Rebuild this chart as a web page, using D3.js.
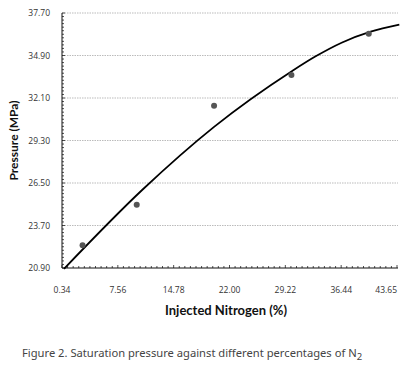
<!DOCTYPE html>
<html>
<head>
<meta charset="utf-8">
<script src="https://cdn.jsdelivr.net/npm/d3@7"></script>
<style>
  body { margin: 0; background: #fff; }
  svg { display: block; }
</style>
</head>
<body>
<div id="chart"></div>
<script>
const width = 413,
    height = 370;

// measured points
const nitrogen = [3, 10, 20, 30, 40];
const pressure = [22.40, 25.07, 31.59, 33.61, 36.34];

// trend line
const fitX = [0.6, 10.7, 20, 30, 33.08, 36.56, 40.25, 43.95];
const fitY = [20.85, 26.04, 30.2, 33.85, 34.83, 35.76, 36.47, 36.93];

const xTicks = [0.34, 7.56, 14.78, 22.00, 29.22, 36.44, 43.65];
const yTicks = [20.90, 23.70, 26.50, 29.30, 32.10, 34.90, 37.70];

const plotLeft = 62, plotRight = 397, plotTop = 13, plotBottom = 268;

const svg = d3.select("#chart")
    .append("svg")
    .attr("width", width)
    .attr("height", height);

const x = d3.scaleLinear().domain([0.34, 43.65]).range([plotLeft, plotRight]);
const y = d3.scaleLinear().domain([20.90, 37.70]).range([plotBottom, plotTop]);

// grid lines
svg.append("g")
    .selectAll("line")
    .data(yTicks.slice(1))
    .join("line")
    .attr("x1", plotLeft)
    .attr("x2", plotRight + 1)
    .attr("y1", d => y(d))
    .attr("y2", d => y(d))
    .attr("stroke", "#aaa")
    .attr("stroke-width", 0.8)
    .attr("stroke-dasharray", "1.5,1");

// minor ticks (10 per x step, 12 per y step)
const xMinor = d3.range(0, 61).map(i => 0.34 + i * (43.65 - 0.34) / 60);
const yMinor = d3.range(0, 73).map(i => 20.90 + i * (37.70 - 20.90) / 72);

svg.append("g")
    .selectAll("line")
    .data(xMinor)
    .join("line")
    .attr("x1", d => x(d))
    .attr("x2", d => x(d))
    .attr("y1", plotBottom)
    .attr("y2", (d, i) => i % 10 === 0 ? plotBottom - 3 : plotBottom - 2)
    .attr("stroke", "#222")
    .attr("stroke-width", 0.8);

svg.append("g")
    .selectAll("line")
    .data(yMinor)
    .join("line")
    .attr("x1", plotLeft)
    .attr("x2", (d, i) => i % 12 === 0 ? plotLeft + 3 : plotLeft + 2)
    .attr("y1", d => y(d))
    .attr("y2", d => y(d))
    .attr("stroke", "#222")
    .attr("stroke-width", 0.8);

// axes lines
svg.append("line")
    .attr("x1", plotLeft).attr("x2", plotRight + 1)
    .attr("y1", plotBottom).attr("y2", plotBottom)
    .attr("stroke", "#111").attr("stroke-width", 1);
svg.append("line")
    .attr("x1", plotLeft).attr("x2", plotLeft)
    .attr("y1", plotTop).attr("y2", plotBottom)
    .attr("stroke", "#111").attr("stroke-width", 1);

// tick labels
svg.append("g")
    .selectAll("text")
    .data(yTicks)
    .join("text")
    .attr("x", 50)
    .attr("y", d => y(d) + 3)
    .attr("text-anchor", "end")
    .attr("font-family", "'Open Sans'")
    .attr("font-size", "8.5px")
    .attr("fill", "#333")
    .text(d => d.toFixed(2));

svg.append("g")
    .selectAll("text")
    .data(xTicks)
    .join("text")
    .attr("x", (d, i) => i === xTicks.length - 1 ? plotRight : x(d))
    .attr("y", 293)
    .attr("text-anchor", (d, i) => i === xTicks.length - 1 ? "end" : "middle")
    .attr("font-family", "'Open Sans'")
    .attr("font-size", "8.5px")
    .attr("fill", "#333")
    .text(d => d.toFixed(2));

// axis titles
svg.append("text")
    .attr("transform", `translate(18, ${(plotTop + plotBottom) / 2}) rotate(-90)`)
    .attr("text-anchor", "middle")
    .attr("font-family", "Lato")
    .attr("font-weight", "bold")
    .attr("font-size", "12px")
    .attr("fill", "#111")
    .text("Pressure (MPa)");

svg.append("text")
    .attr("x", 226)
    .attr("y", 315)
    .attr("text-anchor", "middle")
    .attr("font-family", "Lato")
    .attr("font-weight", "bold")
    .attr("font-size", "13px")
    .attr("fill", "#111")
    .text("Injected Nitrogen (%)");

// trend line
const line = d3.line()
    .x(d => x(d[0]))
    .y(d => y(d[1]))
    .curve(d3.curveMonotoneX);

svg.append("path")
    .datum(d3.zip(fitX, fitY))
    .attr("d", line)
    .attr("fill", "none")
    .attr("stroke", "#000")
    .attr("stroke-width", 1.8);

// points
svg.append("g")
    .selectAll("circle")
    .data(d3.zip(nitrogen, pressure))
    .join("circle")
    .attr("cx", d => x(d[0]))
    .attr("cy", d => y(d[1]))
    .attr("r", 3)
    .attr("fill", "#555");

// caption
const cap = svg.append("text")
    .attr("x", 22)
    .attr("y", 357)
    .attr("font-family", "'Noto Sans'")
    .attr("font-size", "11.2px")
    .attr("fill", "#444")
    .text("Figure 2. Saturation pressure against different percentages of N");
cap.append("tspan")
    .attr("dy", 3)
    .attr("font-size", "9.5px")
    .text("2");
</script>
</body>
</html>
